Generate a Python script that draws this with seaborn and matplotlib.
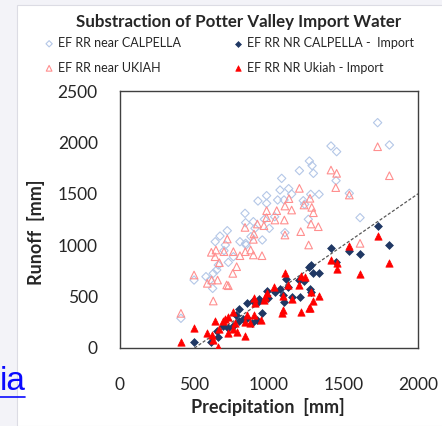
import numpy as np
import pandas as pd
import matplotlib
matplotlib.use('Agg')
import matplotlib.pyplot as plt
from matplotlib.patches import Rectangle
import seaborn as sns

# EF RR near CALPELLA (open diamonds)
cal_x = [1729, 1808, 1416, 1454, 1271, 1289, 1298, 1204, 1450, 1085, 1074, 1132, 1152, 1101, 1058,
         984, 984, 926, 1230, 1239, 1280, 1336, 1539, 1264, 1611, 1038, 1002, 969, 839, 843, 895,
         906, 955, 720, 671, 639, 707, 805, 843, 846, 698, 761, 727, 660, 649, 626, 577, 497, 604,
         622, 409, 1107, 879]
cal_y = [2192, 1975, 1965, 1910, 1819, 1774, 1699, 1725, 1628, 1650, 1537, 1550, 1498, 1440, 1440,
         1482, 1407, 1430, 1433, 1398, 1495, 1495, 1505, 1252, 1268, 1277, 1164, 1252, 1310, 1219, 1229,
         1164, 1051, 1141, 1089, 1034, 1002, 1034, 1018, 1002, 947, 888, 833, 807, 759, 726, 694, 661, 661,
         580, 289, 1122, 1083]

# EF RR near UKIAH (open triangles)
uki_x = [1729, 1808, 1416, 1454, 1448, 1539, 1204, 1275, 1235, 1287, 1298, 1134, 1107, 1152, 1052,
         984, 984, 1040, 1103, 1282, 1331, 1213, 1107, 1266, 1611, 839, 922, 966, 899, 895, 720,
         613, 644, 698, 638, 667, 761, 783, 757, 805, 841, 877, 895, 953, 497, 586, 615, 655, 716,
         727, 626, 409]
uki_y = [1958, 1676, 1731, 1699, 1560, 1488, 1553, 1456, 1391, 1368, 1316, 1453, 1381, 1342, 1336,
         1336, 1268, 1245, 1245, 1206, 1180, 1132, 1099, 1002, 1018, 1173, 1206, 1190, 1109, 1057, 1060,
         931, 953, 937, 888, 830, 937, 791, 726, 898, 937, 953, 905, 898, 710, 629, 661, 661, 613,
         606, 457, 337]

# EF RR NR CALPELLA - Import (filled navy diamonds)
cal_imp_x = [1729, 1808, 1416, 1539, 1611, 1450, 1282, 1271, 1293, 1333, 1114, 1204, 1235, 1130, 1074,
             1040, 1275, 1284, 1096, 1152, 1208, 984, 996, 933, 895, 929, 1103, 855, 801, 953, 850,
             917, 779, 756, 727, 693, 649, 660, 611, 497, 828, 799, 884]
cal_imp_y = [1190, 1002, 976, 947, 914, 840, 807, 785, 726, 726, 671, 661, 655, 597, 571,
             542, 571, 545, 516, 499, 499, 555, 483, 480, 457, 444, 451, 441, 383, 337, 289,
             272, 321, 217, 191, 214, 169, 110, 62, 55, 279, 266, 240]

# EF RR NR Ukiah - Import (filled red triangles)
uki_imp_x = [1729, 1808, 1416, 1454, 1454, 1539, 1611, 1213, 1239, 1110, 1130, 1034, 1204, 1280, 1298,
             1333, 1096, 1154, 984, 973, 899, 969, 906, 1275, 1268, 1213, 1085, 1096, 949, 899, 872,
             850, 839, 761, 727, 705, 688, 638, 772, 761, 783, 727, 841, 664, 615, 582, 499, 660,
             409, 626]
uki_imp_y = [1089, 824, 856, 830, 765, 995, 717, 700, 694, 733, 616, 590, 616, 542, 460,
             506, 506, 477, 532, 499, 483, 467, 441, 389, 386, 350, 337, 370, 272, 321, 240,
             321, 250, 347, 305, 279, 266, 266, 246, 182, 159, 143, 117, 182, 126, 143, 191, 13,
             55, 78]

# 1:1 line shifted by the import volume
line_x = [500, 2000]
line_y = [0, 1500]

sns.set_style('white')
plt.rcParams['font.family'] = ['Lato', 'DejaVu Sans']

fig = plt.figure(figsize=(4.42, 4.26), dpi=100)
fig.patch.set_facecolor('#f3f3f8')
fig.patches.append(Rectangle((17 / 442, 0), 1, 1 - 5 / 426, transform=fig.transFigure,
                             facecolor='white', edgecolor='#dcdce4', lw=0.8, zorder=-1))
ax = fig.add_axes([120 / 442, 1 - 348 / 426, 298 / 442, 257 / 426])

ax.plot(line_x, line_y, ls=(0, (2.5, 1.5)), color='#595959', lw=0.9, zorder=1)

sns.scatterplot(x=cal_x, y=cal_y, ax=ax, marker='D', s=18, facecolor='none',
                edgecolor='#b4c7e7', linewidth=0.8, label='EF RR near CALPELLA', zorder=2)
sns.scatterplot(x=uki_x, y=uki_y, ax=ax, marker='^', s=30, facecolor='none',
                edgecolor='#ff8f8f', linewidth=0.8, label='EF RR near UKIAH', zorder=2)
sns.scatterplot(x=cal_imp_x, y=cal_imp_y, ax=ax, marker='D', s=16, color='#203864',
                edgecolor='#203864', linewidth=0.5, label='EF RR NR CALPELLA -  Import', zorder=3)
sns.scatterplot(x=uki_imp_x, y=uki_imp_y, ax=ax, marker='^', s=28, color='#ff0000',
                edgecolor='#ff0000', linewidth=0.5, label='EF RR NR Ukiah - Import', zorder=3)

ax.set_xlim(0, 2000)
ax.set_ylim(0, 2500)
ax.set_xticks([0, 500, 1000, 1500, 2000])
ax.set_yticks([0, 500, 1000, 1500, 2000, 2500])
ax.tick_params(axis='x', direction='in', length=5, width=1, pad=21, labelsize=12.5, color='#404040')
ax.tick_params(axis='y', direction='in', length=5, width=1, pad=16, labelsize=12.5, color='#404040')
for sp in ax.spines.values():
    sp.set_color('#404040')
    sp.set_linewidth(1)

ax.set_xlabel('Precipitation  [mm]', fontsize=13, fontweight='bold')
ax.set_ylabel('Runoff  [mm]', fontsize=13, fontweight='bold')
ax.xaxis.set_label_coords(0.497, -0.195)
ax.yaxis.set_label_coords(-0.25, 0.45)

handles, labels = ax.get_legend_handles_labels()
ax.get_legend().remove()
fig.legend(handles, labels, ncol=2, loc='upper left', bbox_to_anchor=(0.097, 0.913),
           frameon=False, fontsize=9, handletextpad=0.2, columnspacing=4.1,
           labelspacing=1.0, handlelength=1.0, borderaxespad=0, borderpad=0, markerscale=0.75)

fig.text(0.541, 0.937, 'Substraction of Potter Valley Import Water', ha='center', va='baseline',
         fontsize=12.2, fontweight='bold')
fig.text(0.0, 36 / 426, 'ia', ha='left', va='baseline', fontsize=24, color='#0a0aff',
         family='Liberation Sans')
fig.add_artist(plt.Line2D([0, 25 / 442], [0.068, 0.068], transform=fig.transFigure,
                          color='#0a0aff', lw=1.2))

fig.savefig('out.png', dpi=100)
